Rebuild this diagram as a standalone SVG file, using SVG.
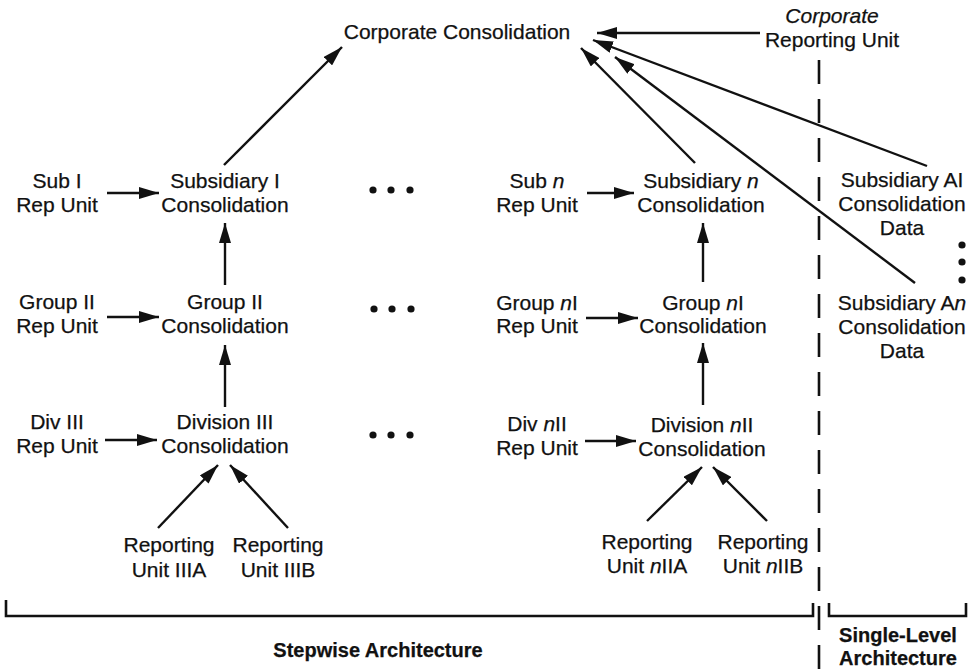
<svg xmlns="http://www.w3.org/2000/svg" width="968" height="671" viewBox="0 0 968 671">
<defs>
<marker id="ah" markerUnits="userSpaceOnUse" markerWidth="22" markerHeight="12" refX="20" refY="6" orient="auto">
<path d="M0,0 L20,6 L0,12 z" fill="#111"/>
</marker>
<style>
text{font-family:"Liberation Sans",Arial,sans-serif;font-size:21px;fill:#111;text-anchor:middle;stroke:#111;stroke-width:0.25}
.b{font-weight:bold;font-size:20px}
.i{font-style:italic}
.c line{stroke:#111;stroke-width:2.4;marker-end:url(#ah)}
.br{stroke:#111;stroke-width:2.6;fill:none}
.dash{stroke:#111;stroke-width:2.6;stroke-dasharray:24 15}
.dot{fill:#111}
</style>
</defs>
<rect width="968" height="671" fill="#fff"/>

<g id="corporate-consolidation"><text x="457" y="39">Corporate Consolidation</text></g>
<g id="corporate-reporting-unit"><text x="832" y="23" class="i">Corporate</text><text x="832" y="47">Reporting Unit</text></g>

<g id="sub-i-rep"><text x="57" y="188">Sub I</text><text x="57" y="212">Rep Unit</text></g>
<g id="subsidiary-i"><text x="225" y="188">Subsidiary I</text><text x="225" y="212">Consolidation</text></g>
<g id="group-ii-rep"><text x="57" y="309">Group II</text><text x="57" y="333">Rep Unit</text></g>
<g id="group-ii"><text x="225" y="309">Group II</text><text x="225" y="333">Consolidation</text></g>
<g id="div-iii-rep"><text x="57" y="429">Div III</text><text x="57" y="453">Rep Unit</text></g>
<g id="division-iii"><text x="225" y="429">Division III</text><text x="225" y="453">Consolidation</text></g>
<g id="ru-iiia"><text x="169" y="552">Reporting</text><text x="169" y="577">Unit IIIA</text></g>
<g id="ru-iiib"><text x="278" y="552">Reporting</text><text x="278" y="577">Unit IIIB</text></g>

<g id="sub-n-rep"><text x="537" y="188">Sub <tspan class="i">n</tspan></text><text x="537" y="212">Rep Unit</text></g>
<g id="subsidiary-n"><text x="701" y="188">Subsidiary <tspan class="i">n</tspan></text><text x="701" y="212">Consolidation</text></g>
<g id="group-ni-rep"><text x="537" y="310">Group <tspan class="i">n</tspan>I</text><text x="537" y="333">Rep Unit</text></g>
<g id="group-ni"><text x="703" y="310">Group <tspan class="i">n</tspan>I</text><text x="703" y="333">Consolidation</text></g>
<g id="div-nii-rep"><text x="537" y="431">Div <tspan class="i">n</tspan>II</text><text x="537" y="455">Rep Unit</text></g>
<g id="division-nii"><text x="702" y="432">Division <tspan class="i">n</tspan>II</text><text x="702" y="456">Consolidation</text></g>
<g id="ru-niia"><text x="647" y="549">Reporting</text><text x="647" y="573">Unit <tspan class="i">n</tspan>IIA</text></g>
<g id="ru-niib"><text x="763" y="549">Reporting</text><text x="763" y="573">Unit <tspan class="i">n</tspan>IIB</text></g>

<g id="subsidiary-ai"><text x="902" y="187">Subsidiary AI</text><text x="902" y="211">Consolidation</text><text x="902" y="235">Data</text></g>
<g id="subsidiary-an"><text x="902" y="310">Subsidiary A<tspan class="i">n</tspan></text><text x="902" y="334">Consolidation</text><text x="902" y="358">Data</text></g>

<g id="ellipses">
<circle class="dot" cx="373" cy="190" r="3.6"/><circle class="dot" cx="391" cy="190" r="3.6"/><circle class="dot" cx="410" cy="190" r="3.6"/>
<circle class="dot" cx="374" cy="309" r="3.6"/><circle class="dot" cx="392" cy="309" r="3.6"/><circle class="dot" cx="411" cy="309" r="3.6"/>
<circle class="dot" cx="373" cy="435" r="3.6"/><circle class="dot" cx="391" cy="435" r="3.6"/><circle class="dot" cx="410" cy="435" r="3.6"/>
<circle class="dot" cx="962" cy="245" r="3.6"/><circle class="dot" cx="962" cy="262" r="3.6"/><circle class="dot" cx="962" cy="280" r="3.6"/>
</g>

<g id="connectors" class="c">
<line x1="107" y1="193" x2="159" y2="193"/>
<line x1="107" y1="317" x2="159" y2="317"/>
<line x1="105" y1="440" x2="157" y2="440"/>
<line x1="225" y1="285" x2="225" y2="223"/>
<line x1="225" y1="407" x2="225" y2="345"/>
<line x1="224" y1="165" x2="342" y2="47"/>
<line x1="158" y1="528" x2="218" y2="465"/>
<line x1="288" y1="528" x2="230" y2="465"/>

<line x1="587" y1="193" x2="634" y2="193"/>
<line x1="586" y1="318" x2="638" y2="318"/>
<line x1="585" y1="441" x2="636" y2="441"/>
<line x1="703" y1="282" x2="703" y2="223"/>
<line x1="703" y1="405" x2="703" y2="343"/>
<line x1="647" y1="521" x2="702" y2="467"/>
<line x1="767" y1="521" x2="713" y2="467"/>

<line x1="760" y1="33" x2="597" y2="33"/>
<line x1="695" y1="163" x2="581" y2="48"/>
<line x1="927" y1="166" x2="593" y2="40"/>
<line x1="915" y1="283" x2="615" y2="57"/>
</g>

<g id="brackets">
<line class="dash" x1="819" y1="60" x2="819" y2="671"/>
<path class="br" d="M6,600 V616 H813 V603"/>
<path class="br" d="M829,603 V616 H966 V603"/>
<text class="b" x="378" y="657">Stepwise Architecture</text>
<text class="b" x="898" y="642">Single-Level</text>
<text class="b" x="898" y="665">Architecture</text>
</g>
</svg>
